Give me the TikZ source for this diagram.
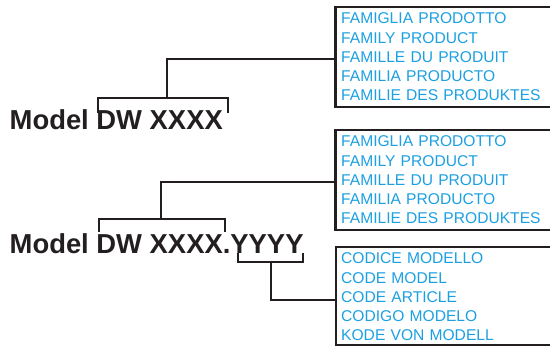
\documentclass[tikz,border=0pt]{standalone}
\usepackage{fontspec}
\setmainfont{Liberation Sans}
\definecolor{lbl}{RGB}{27,160,226}
\definecolor{ink}{RGB}{35,31,32}
\begin{document}
\begin{tikzpicture}[x=1pt,y=-1pt,
  infobox/.style={draw=ink,line width=2.5pt,minimum width=240pt,minimum height=100pt,anchor=north west,inner sep=0pt},
  infotext/.style={text=lbl,anchor=base west,inner sep=0pt,text width=205pt,align=left,font=\fontsize{15.6}{19.2}\selectfont},
  modeltext/.style={text=ink,anchor=base west,inner sep=0pt,font=\fontsize{27.4}{30}\selectfont\bfseries},
  link/.style={draw=ink,line width=1.8pt}]
\useasboundingbox (0,0) rectangle (550,347);
\fill[white] (0,0) rectangle (550,347);

\node[infobox] (b1) at (334.3,6) {};
\node[infotext] (t1) at (341,24) {FAMIGLIA PRODOTTO\\FAMILY PRODUCT\\FAMILLE DU PRODUIT\\FAMILIA PRODUCTO\\FAMILIE DES PRODUKTES};
\node[infobox] (b2) at (334.3,129) {};
\node[infotext] (t2) at (341,147) {FAMIGLIA PRODOTTO\\FAMILY PRODUCT\\FAMILLE DU PRODUIT\\FAMILIA PRODUCTO\\FAMILIE DES PRODUKTES};
\node[infobox,minimum height=98pt] (b3) at (334.8,246) {};
\node[infotext] (t3) at (341,264) {CODICE MODELLO\\CODE MODEL\\CODE ARTICLE\\CODIGO MODELO\\KODE VON MODELL};

\node[modeltext] (m1) at (9.5,130) {Model DW XXXX};
\node[modeltext] (m2) at (9.5,253.3) {Model DW XXXX.YYYY};

% bracket 1
\coordinate (a1l) at (98.3,113);
\coordinate (a1r) at (228.3,113);
\coordinate (a1m) at (167.3,98);
\coordinate (j1) at (167.3,59.3);
\draw[link] (a1l) |- (a1m) -| (a1r);
\draw[link] (a1m) -- (j1) -- (j1 -| b1.west);

% bracket 2
\coordinate (a2l) at (99,231.7);
\coordinate (a2r) at (225,231.7);
\coordinate (a2m) at (160.7,219.3);
\coordinate (j2) at (160.7,182);
\draw[link] (a2l) |- (a2m) -| (a2r);
\draw[link] (a2m) -- (j2) -- (j2 -| b2.west);

% bracket 3
\coordinate (a3l) at (238.3,252.7);
\coordinate (a3r) at (302.7,252.7);
\coordinate (a3m) at (270.7,262.3);
\coordinate (j3) at (270.7,300);
\draw[link] (a3l) |- (a3m) -| (a3r);
\draw[link] (a3m) -- (j3) -- (j3 -| b3.west);
\end{tikzpicture}
\end{document}
